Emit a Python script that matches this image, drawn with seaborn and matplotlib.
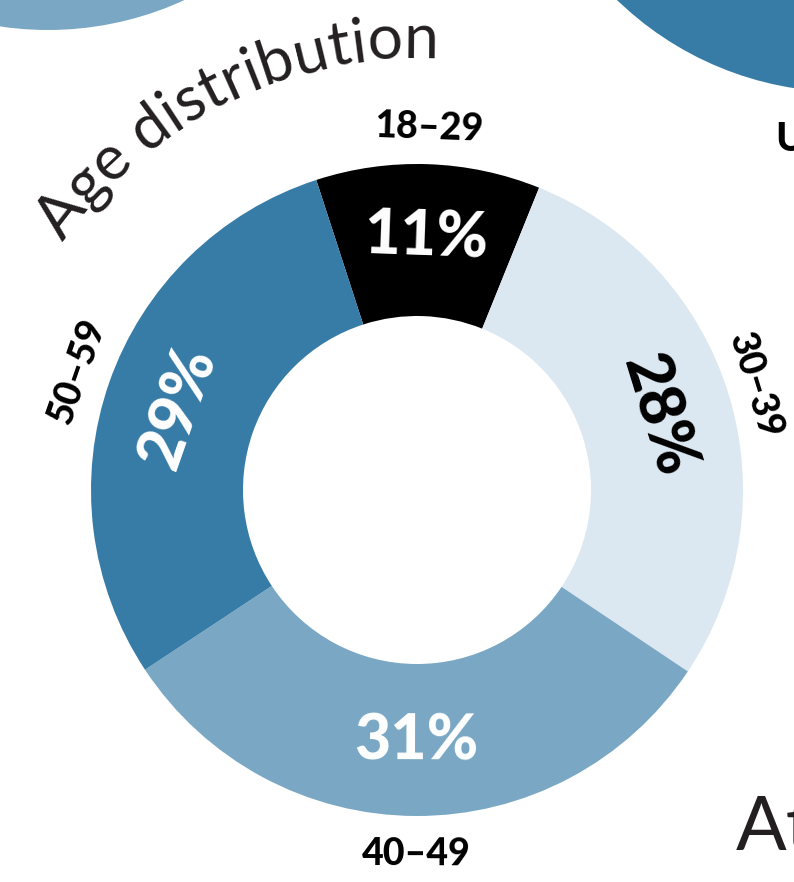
import numpy as np
import matplotlib
matplotlib.use("Agg")
import matplotlib.pyplot as plt
import seaborn as sns
from matplotlib.patches import Circle
from matplotlib import font_manager as fm
from matplotlib.font_manager import FontProperties

# ---- data ----
age_groups = ["18–29", "30–39", "40–49", "50–59"]
shares = [11, 28, 31, 29]
pct_labels = ["11%", "28%", "31%", "29%"]
title = "Age distribution"

seg_colors = ["#000000", "#dce8f1", "#7aa8c4", "#377ca6"]
pct_colors = ["white", "black", "white", "white"]

sns.set_theme(style="white")
plt.rcParams["font.family"] = ["Lato", "DejaVu Sans"]


def wnum(f):
    w = f.weight
    if isinstance(w, str):
        w = fm.weight_dict.get(w, 400)
    return w


def lato(weight):
    cands = [f for f in fm.fontManager.ttflist
             if f.name == "Lato" and f.style == "normal"]
    if not cands:
        return None
    return min(cands, key=lambda f: abs(wnum(f) - weight)).fname


bold_file = lato(850)
reg_file = lato(400)


def fp(file, weight, size):
    if file:
        return FontProperties(fname=file, size=size)
    return FontProperties(family="DejaVu Sans", weight=weight, size=size)


W, H = 794, 882
fig = plt.figure(figsize=(W / 100, H / 100), dpi=100)
ax = fig.add_axes([0, 0, 1, 1])

cx, cy = 417, H - 490
R_out, R_in = 326, 174

# neighbouring charts (partly visible)
ax.add_patch(Circle((48, H + 296), 326, color="#7aa8c4", lw=0))
ax.add_patch(Circle((844, H + 234), 326, color="#377ca6", lw=0))

wedges, _ = ax.pie(shares, colors=seg_colors, startangle=108, counterclock=False,
                   center=(cx, cy), radius=R_out,
                   wedgeprops=dict(width=R_out - R_in, edgecolor="none", linewidth=0))

ax.set_xlim(0, W)
ax.set_ylim(0, H)
ax.set_aspect("equal", adjustable="box")
ax.axis("off")


def tangent_rot(mid):
    r = mid - 90
    while r <= -90:
        r += 180
    while r > 90:
        r -= 180
    return r


r_pct = 252
r_lab = [362, 354, 364, 360]
for w, lab, pc, grp, rl in zip(wedges, pct_labels, pct_colors, age_groups, r_lab):
    mid = (w.theta1 + w.theta2) / 2
    a = np.deg2rad(mid)
    rot = tangent_rot(mid)
    ax.text(cx + r_pct * np.cos(a), cy + r_pct * np.sin(a), lab, color=pc,
            fontproperties=fp(bold_file, "heavy", 45), ha="center", va="center",
            rotation=rot, rotation_mode="anchor")
    ax.text(cx + rl * np.cos(a), cy + rl * np.sin(a), grp, color="black",
            fontproperties=fp(bold_file, "heavy", 27), ha="center", va="center",
            rotation=rot, rotation_mode="anchor")

# curved title along an arc concentric with the donut
renderer = fig.canvas.get_renderer()


def width_px(s, size):
    p = fp(reg_file, "normal", size)
    w1, _, _ = renderer.get_text_width_height_descent(s + "|", p, ismath=False)
    w2, _, _ = renderer.get_text_width_height_descent("|", p, ismath=False)
    return w1 - w2

R_t = 432
start_deg, end_deg = -55.0, 2.7  # clockwise from top
arc_len = np.deg2rad(end_deg - start_deg) * R_t
base_size = 40
scale = arc_len / width_px(title, base_size)
tsize = base_size * scale
for i, ch in enumerate(title):
    if ch == " ":
        continue
    w0 = width_px(title[:i], tsize)
    w1 = width_px(title[:i + 1], tsize)
    s = (w0 + w1) / 2
    vis = start_deg + np.rad2deg(s / R_t)
    m = np.deg2rad(90 - vis)
    ax.text(cx + R_t * np.cos(m), cy + R_t * np.sin(m), ch, color="#231f20",
            fontproperties=fp(reg_file, "normal", tsize), ha="center", va="baseline",
            rotation=-vis, rotation_mode="anchor")

# partial texts of neighbouring charts (cut by the frame as in the source)
ax.text(775, H - 151, "U", fontproperties=fp(bold_file, "heavy", 29), color="black",
        ha="left", va="baseline")
ax.text(736, H - 850, "At", fontproperties=fp(reg_file, "normal", 54), color="#231f20",
        ha="left", va="baseline")

fig.savefig("out.png", dpi=100)
